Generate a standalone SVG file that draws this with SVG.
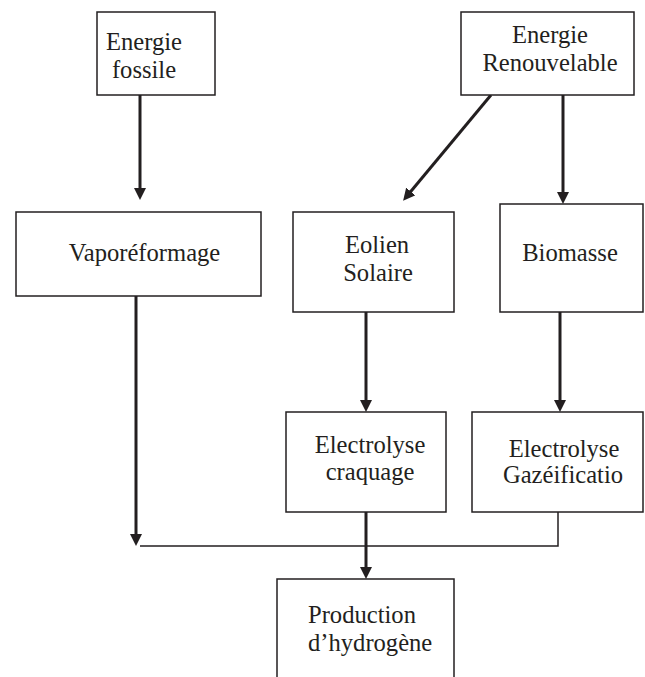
<svg xmlns="http://www.w3.org/2000/svg" width="645" height="677" viewBox="0 0 645 677">
<style>
  .box { fill: #ffffff; stroke: #231f20; stroke-width: 1.5; }
  text { font-family: 'Liberation Serif', 'Times New Roman', Times, 'DejaVu Serif', serif; font-size: 24.6px; fill: #231f20; }
  .lbl { text-anchor: middle; }
  .arrow { stroke: #231f20; stroke-width: 3; fill: none; marker-end: url(#ah); }
  .thin { stroke: #231f20; stroke-width: 1.5; fill: none; }
</style>
<defs>
  <marker id="ah" markerUnits="userSpaceOnUse" markerWidth="12" markerHeight="12" refX="2" refY="6" orient="auto">
    <path d="M0,0 L12,6 L0,12 z" fill="#231f20"/>
  </marker>
</defs>
<rect width="645" height="677" fill="#ffffff"/>
<g id="connectors">
  <line class="arrow" x1="140" y1="95" x2="140" y2="190"/>
  <line class="arrow" x1="491" y1="95" x2="409.5" y2="193"/>
  <line class="arrow" x1="563" y1="95" x2="563" y2="194"/>
  <line class="arrow" x1="136" y1="296" x2="136" y2="536"/>
  <line class="arrow" x1="366" y1="312" x2="366" y2="402"/>
  <line class="arrow" x1="560" y1="312" x2="560" y2="402"/>
  <line class="arrow" x1="366" y1="512" x2="366" y2="569"/>
  <polyline class="thin" points="140,546 558,546 558,512"/>
</g>
<g id="energie-fossile">
  <rect class="box" x="97" y="12" width="118" height="83"/>
  <text class="lbl" x="144" y="50">Energie</text>
  <text class="lbl" x="144" y="78">fossile</text>
</g>
<g id="energie-renouvelable">
  <rect class="box" x="461" y="12" width="173" height="83"/>
  <text class="lbl" x="550" y="43">Energie</text>
  <text class="lbl" x="550" y="71">Renouvelable</text>
</g>
<g id="vaporeformage">
  <rect class="box" x="16" y="212" width="245" height="84"/>
  <text class="lbl" x="144.5" y="261">Vaporéformage</text>
</g>
<g id="eolien-solaire">
  <rect class="box" x="293" y="212" width="161" height="100"/>
  <text class="lbl" x="377" y="253">Eolien</text>
  <text class="lbl" x="378" y="281">Solaire</text>
</g>
<g id="biomasse">
  <rect class="box" x="500" y="204" width="143" height="108"/>
  <text class="lbl" x="570" y="261">Biomasse</text>
</g>
<g id="electrolyse-craquage">
  <rect class="box" x="286" y="412" width="160" height="100"/>
  <text class="lbl" x="370" y="453">Electrolyse</text>
  <text class="lbl" x="370" y="480">craquage</text>
</g>
<g id="electrolyse-gazeification">
  <rect class="box" x="472" y="412" width="171" height="100"/>
  <text class="lbl" x="564" y="457">Electrolyse</text>
  <text class="lbl" x="563" y="483">Gazéificatio</text>
</g>
<g id="production-hydrogene">
  <path class="box" d="M277,690 L277,579 L454,579 L454,690"/>
  <text x="308" y="623">Production</text>
  <text x="308" y="651">d’hydrogène</text>
</g>
</svg>
